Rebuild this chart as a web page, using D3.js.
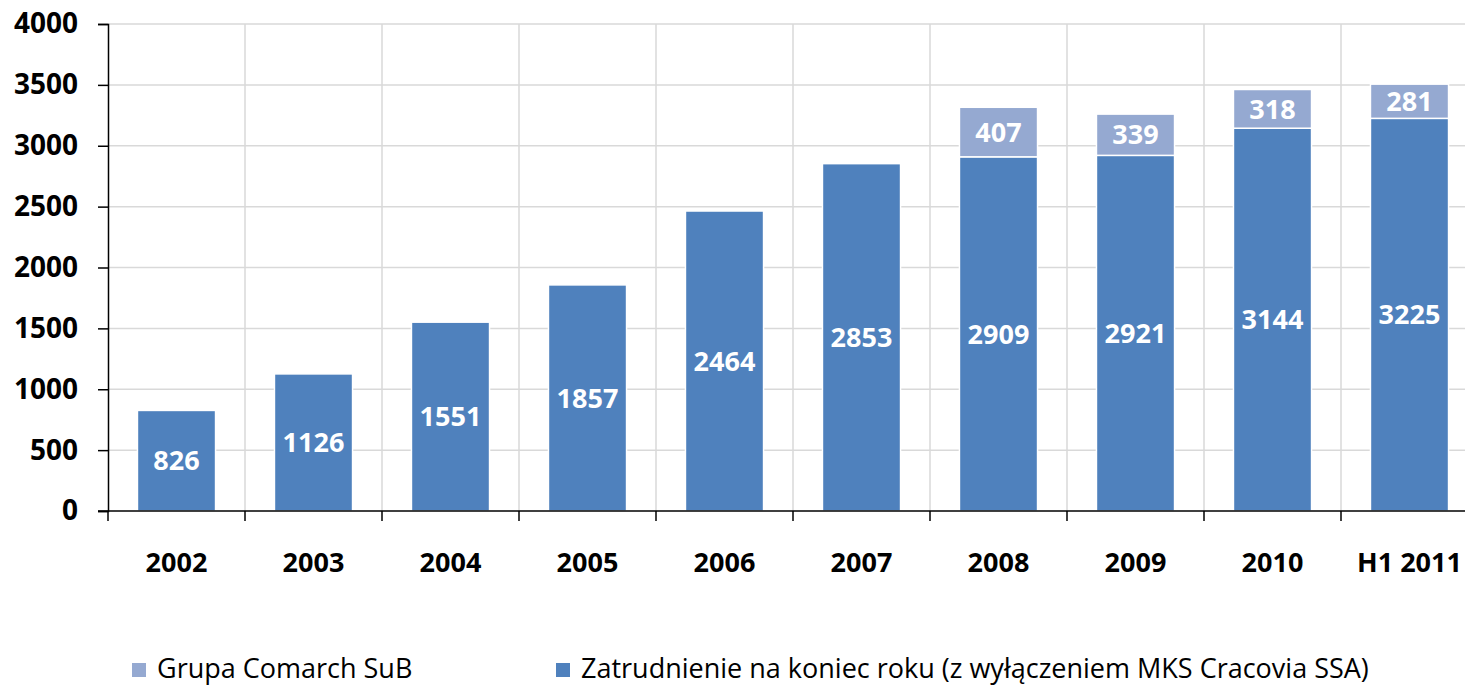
<!DOCTYPE html>
<html>
<head>
<meta charset="utf-8">
<script src="https://cdn.jsdelivr.net/npm/d3@7"></script>
<style>
  body { margin: 0; background: #fff; }
  svg { display: block; font-family: "Open Sans", sans-serif; }
</style>
</head>
<body>
<div id="chart"></div>
<script>
// data
const categories = ["2002", "2003", "2004", "2005", "2006", "2007", "2008", "2009", "2010", "H1 2011"];
const baseValues = [826, 1126, 1551, 1857, 2464, 2853, 2909, 2921, 3144, 3225];
const subValues = [null, null, null, null, null, null, 407, 339, 318, 281];
const yTicks = [0, 500, 1000, 1500, 2000, 2500, 3000, 3500, 4000];
const legendLabels = ["Grupa Comarch SuB", "Zatrudnienie na koniec roku (z wyłączeniem MKS Cracovia SSA)"];
const colorBase = "#4F81BD";
const colorSub = "#95A9D1";

const W = 1465, H = 688;
const svg = d3.select("#chart").append("svg")
  .attr("width", W)
  .attr("height", H);

const x = d3.scaleBand()
  .domain(categories)
  .range([108, 1478])
  .paddingInner(0.43)
  .paddingOuter(0.215);
const step = x.step();

const y = d3.scaleLinear()
  .domain([0, 4000])
  .range([511, 24]);

// grid
svg.append("g").selectAll("line")
  .data(yTicks.filter(d => d > 0))
  .join("line")
  .attr("x1", 108).attr("x2", W)
  .attr("y1", d => y(d)).attr("y2", d => y(d))
  .attr("stroke", "#d9d9d9").attr("stroke-width", 1.5);

svg.append("g").selectAll("line")
  .data(categories.slice(1))
  .join("line")
  .attr("x1", d => x(d) - (step - x.bandwidth()) / 2)
  .attr("x2", d => x(d) - (step - x.bandwidth()) / 2)
  .attr("y1", y(4000)).attr("y2", y(0))
  .attr("stroke", "#d9d9d9").attr("stroke-width", 1.5);

// bars
const bars = svg.append("g");
bars.selectAll("rect.base")
  .data(categories)
  .join("rect")
  .attr("class", "base")
  .attr("x", d => x(d))
  .attr("width", x.bandwidth())
  .attr("y", (d, i) => y(baseValues[i]))
  .attr("height", (d, i) => y(0) - y(baseValues[i]))
  .attr("fill", colorBase)
  .attr("stroke", "#fff").attr("stroke-width", 1.5);

bars.selectAll("rect.sub")
  .data(categories.filter((d, i) => subValues[i] != null))
  .join("rect")
  .attr("class", "sub")
  .attr("x", d => x(d))
  .attr("width", x.bandwidth())
  .attr("y", d => { const i = categories.indexOf(d); return y(baseValues[i] + subValues[i]); })
  .attr("height", d => { const i = categories.indexOf(d); return y(baseValues[i]) - y(baseValues[i] + subValues[i]); })
  .attr("fill", colorSub)
  .attr("stroke", "#fff").attr("stroke-width", 1.5);

// value labels
const labels = svg.append("g")
  .attr("fill", "#fff")
  .attr("font-weight", 700)
  .attr("font-size", 27)
  .attr("text-anchor", "middle");
labels.selectAll("text.base")
  .data(categories)
  .join("text")
  .attr("x", d => x(d) + x.bandwidth() / 2)
  .attr("y", (d, i) => y(baseValues[i] / 2))
  .attr("dy", "0.36em")
  .text((d, i) => baseValues[i]);
labels.selectAll("text.sub")
  .data(categories.filter((d, i) => subValues[i] != null))
  .join("text")
  .attr("x", d => x(d) + x.bandwidth() / 2)
  .attr("y", d => { const i = categories.indexOf(d); return y(baseValues[i] + subValues[i] / 2); })
  .attr("dy", "0.36em")
  .text(d => subValues[categories.indexOf(d)]);

// y axis
const yAxis = svg.append("g")
  .attr("transform", "translate(108,0)")
  .call(d3.axisLeft(y).tickValues(yTicks).tickSize(10).tickPadding(20).tickFormat(d3.format("d")));
yAxis.selectAll("text").attr("font-size", 28).attr("font-weight", 700).attr("fill", "#000").attr("font-family", "Open Sans");
yAxis.selectAll("line").attr("stroke", "#000").attr("stroke-width", 1.5);
yAxis.select(".domain").attr("stroke", "#000").attr("stroke-width", 1.5);

// x axis
const xAxis = svg.append("g")
  .attr("transform", "translate(0," + y(0) + ")");
xAxis.append("line")
  .attr("x1", 98).attr("x2", W)
  .attr("stroke", "#000").attr("stroke-width", 1.5);
xAxis.selectAll("line.tick")
  .data(categories)
  .join("line")
  .attr("class", "tick")
  .attr("x1", d => x(d) - (step - x.bandwidth()) / 2)
  .attr("x2", d => x(d) - (step - x.bandwidth()) / 2)
  .attr("y1", 0).attr("y2", 10)
  .attr("stroke", "#000").attr("stroke-width", 1.5);
xAxis.selectAll("text")
  .data(categories)
  .join("text")
  .attr("x", d => x(d) + x.bandwidth() / 2)
  .attr("y", 61)
  .attr("text-anchor", "middle")
  .attr("font-size", 27).attr("font-weight", 700)
  .attr("fill", "#000")
  .text(d => d);

// legend
const legend = svg.append("g").attr("font-size", 27);
const legendX = [132, 556];
const legendColors = [colorSub, colorBase];
legendLabels.forEach((t, i) => {
  legend.append("rect")
    .attr("x", legendX[i]).attr("y", 663)
    .attr("width", 14).attr("height", 14)
    .attr("fill", legendColors[i]);
  legend.append("text")
    .attr("x", legendX[i] + 25).attr("y", 668)
    .attr("dy", "0.36em")
    .attr("fill", "#000")
    .text(t);
});
</script>
</body>
</html>
